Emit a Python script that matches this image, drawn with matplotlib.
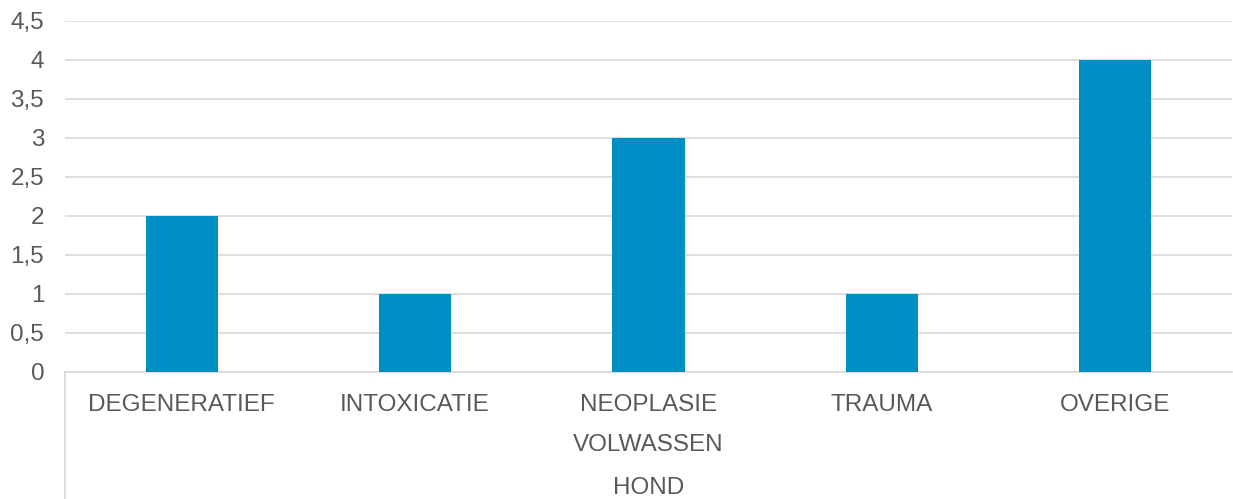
import matplotlib
matplotlib.use("Agg")
import matplotlib.pyplot as plt

categories = ["DEGENERATIEF", "INTOXICATIE", "NEOPLASIE", "TRAUMA", "OVERIGE"]
values = [2, 1, 3, 1, 4]
group_level1 = "VOLWASSEN"
group_level2 = "HOND"
yticks = [0, 0.5, 1, 1.5, 2, 2.5, 3, 3.5, 4, 4.5]
ytick_labels = ["0", "0,5", "1", "1,5", "2", "2,5", "3", "3,5", "4", "4,5"]

plt.rcParams['font.family'] = ['Liberation Sans', 'DejaVu Sans']
W, H = 1233, 499
fig = plt.figure(figsize=(W / 100, H / 100), dpi=100)
left, right, top, bottom = 65, 1232, 21, 372
ax = fig.add_axes([left / W, (H - bottom) / H, (right - left) / W, (bottom - top) / H])

FS = 17.5
x = list(range(len(categories)))
ax.bar(x, values, width=0.31, color="#008FC4", zorder=3)
ax.set_xlim(-0.5, len(categories) - 0.5)
ax.set_ylim(0, 4.5)
ax.set_yticks(yticks)
ax.set_yticklabels(ytick_labels)
ax.yaxis.grid(True, color="#D9D9D9", linewidth=1.2, zorder=0)
ax.set_axisbelow(True)
for s in ["top", "right", "left"]:
    ax.spines[s].set_visible(False)
ax.spines["bottom"].set_color("#D9D9D9")
ax.spines["bottom"].set_linewidth(1.2)
ax.set_xticks(x)
ax.set_xticklabels(categories)
ax.tick_params(axis="both", length=0, labelsize=FS, labelcolor="#595959")
ax.tick_params(axis="x", pad=16)
ax.tick_params(axis="y", pad=15)

# left border line of multi-level category axis
ax.plot([-0.5, -0.5], [0, -0.362 * 4.5], color="#D9D9D9", linewidth=1.2, clip_on=False, zorder=1)

ax.annotate(group_level1, xy=(0.5, 0), xycoords="axes fraction", xytext=(0, -73),
            textcoords="offset pixels", ha="center", va="center", fontsize=FS, color="#595959")
ax.annotate(group_level2, xy=(0.5, 0), xycoords="axes fraction", xytext=(0, -116),
            textcoords="offset pixels", ha="center", va="center", fontsize=FS, color="#595959")

fig.savefig("out.png", dpi=100)
